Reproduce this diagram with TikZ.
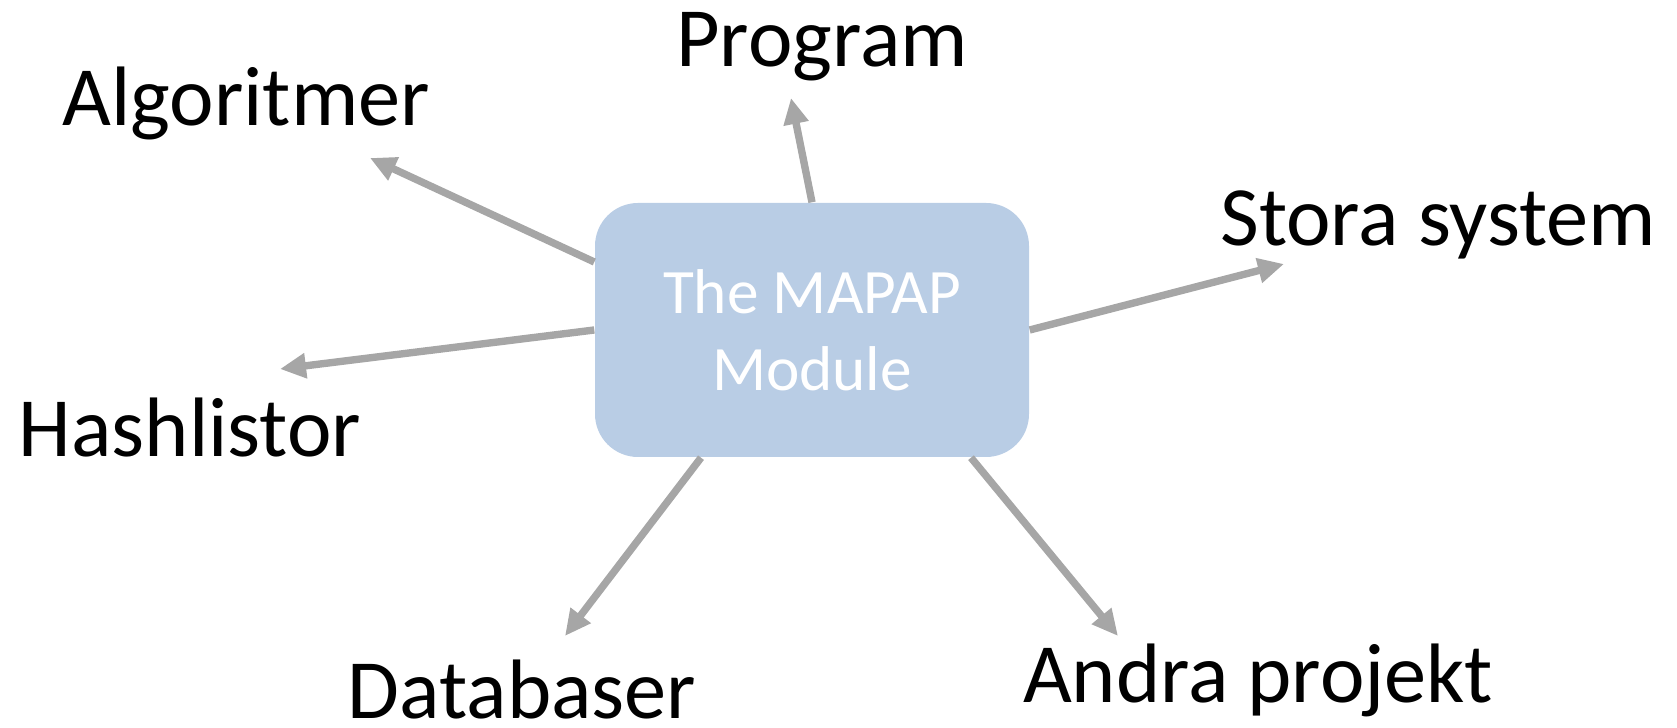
\documentclass[tikz,border=0pt]{standalone}
\usepackage{fontspec}
\setmainfont{Carlito}
\usetikzlibrary{arrows.meta}
\definecolor{boxblue}{RGB}{185,205,229}
\definecolor{linkgray}{RGB}{166,166,166}
\tikzset{
  module/.style={fill=boxblue, rounded corners=0.43cm, minimum width=4.34cm,
    minimum height=2.54cm, align=center, text=white, inner sep=0pt,
    font=\fontsize{18}{22}\selectfont},
  topic/.style={anchor=base, inner sep=0pt, font=\fontsize{24}{28}\selectfont},
  link/.style={draw=linkgray, line width=2.1pt,
    -{Triangle[length=0.26cm, width=0.24cm]}}
}
\begin{document}
\begin{tikzpicture}
\useasboundingbox (0,0) rectangle (16.77,7.28);

% central module
\node[module] (mod) at (8.12,3.98) {The MAPAP\\Module};

% surrounding topics
\node[topic] (alg)  at (2.46,6.02)  {Algoritmer};
\node[topic] (prog) at (8.22,6.61)  {Program};
\node[topic] (sto)  at (14.38,4.82) {Stora system};
\node[topic] (hash) at (1.90,2.71)  {Hashlistor};
\node[topic] (db)   at (5.22,0.09)  {Databaser};
\node[topic] (and)  at (12.58,0.25) {Andra projekt};

% arrow tips, just short of each topic
\coordinate (algT)  at (3.70,5.70);
\coordinate (progT) at (7.91,6.30);
\coordinate (hashT) at (2.80,3.59);
\coordinate (stoT)  at (12.84,4.64);
\coordinate (dbT)   at (5.65,0.92);
\coordinate (andT)  at (11.18,0.92);

% links from the module outwards
\draw[link] ([yshift=0.68cm]mod.west) -- (algT);
\draw[link] (mod.north) -- (progT);
\draw[link] (mod.west) -- (hashT);
\draw[link] (mod.east) -- (stoT);
\draw[link] ([xshift=-1.11cm]mod.south) -- (dbT);
\draw[link] ([xshift=1.59cm]mod.south) -- (andT);
\end{tikzpicture}
\end{document}
